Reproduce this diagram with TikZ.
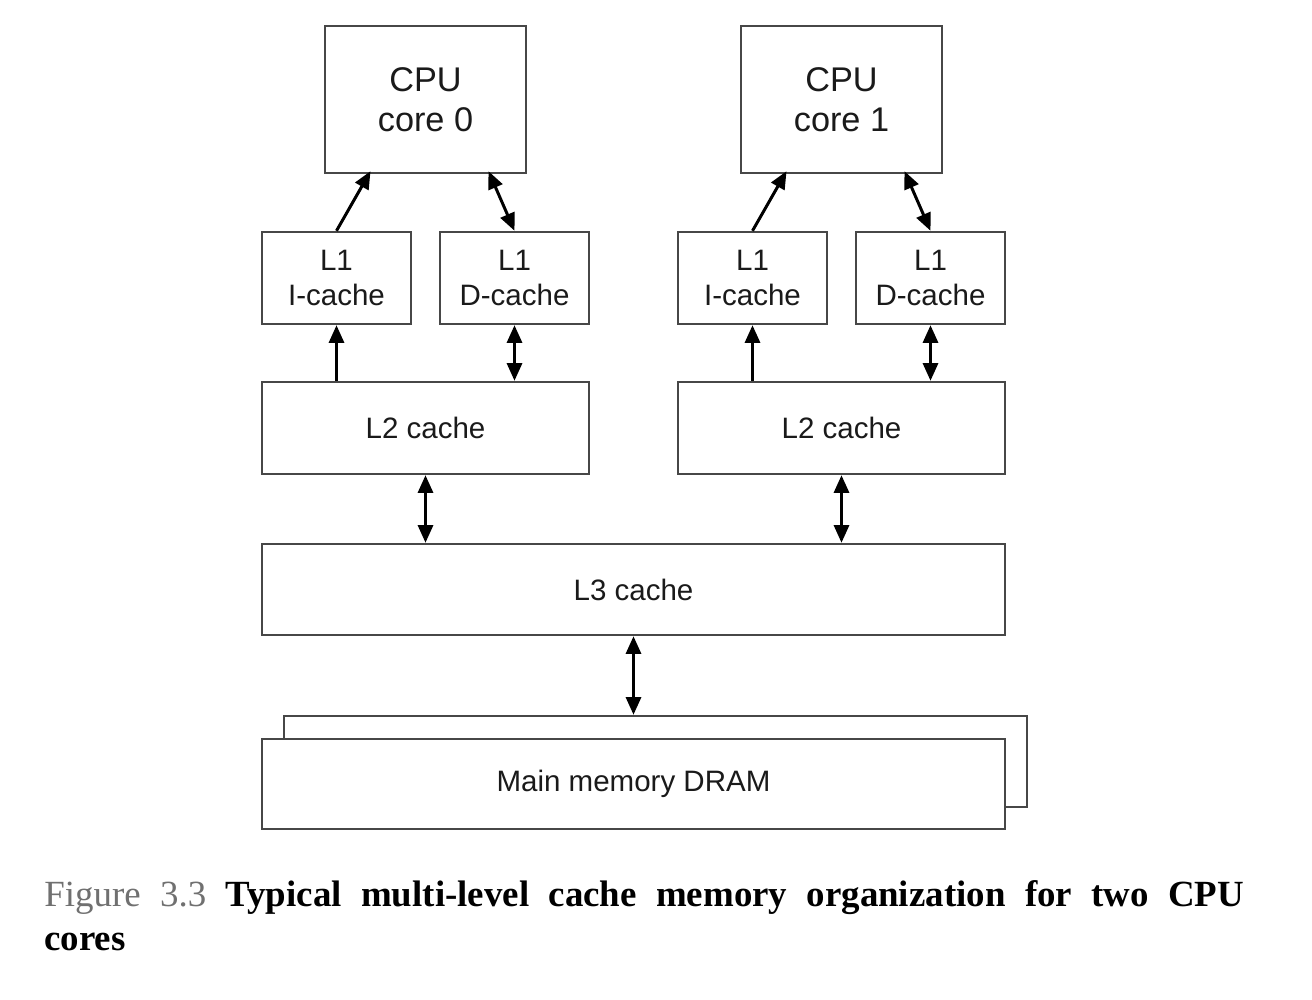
\documentclass[tikz,border=0pt]{standalone}
\usepackage{fontspec}
\setmainfont{Liberation Serif}
\newfontfamily\diagfont{Liberation Sans}
\usetikzlibrary{arrows.meta,calc}
\definecolor{boxgray}{HTML}{474747}
\definecolor{txtgray}{HTML}{1A1A1A}
\definecolor{capgray}{HTML}{707070}
\begin{document}
\begin{tikzpicture}[x=0.02cm,y=-0.02cm,
  box/.style={draw=boxgray, line width=1.4pt, inner sep=0pt, fill=white, align=center, text=txtgray,
    font=\diagfont\fontsize{16.8}{20}\selectfont},
  bigbox/.style={box, font=\diagfont\fontsize{19.5}{22.5}\selectfont},
  tip/.tip={Triangle[length=10pt,width=8.5pt]},
  arr/.style={line width=1.7pt, -tip},
  darr/.style={line width=1.7pt, tip-tip}]
\useasboundingbox (0,0) rectangle (1312,1000);
% CPUs
\node[bigbox, minimum width=4.02cm, minimum height=2.94cm] (cpu0) at (425.5,99.5) {CPU\\core 0};
\node[bigbox, minimum width=4.02cm, minimum height=2.94cm] (cpu1) at (841.5,99.5) {CPU\\core 1};
% L1
\node[box, minimum width=2.98cm, minimum height=1.84cm] (l1ia) at (336.5,278) {L1\\I-cache};
\node[box, minimum width=2.98cm, minimum height=1.84cm] (l1da) at (514.5,278) {L1\\D-cache};
\node[box, minimum width=2.98cm, minimum height=1.84cm] (l1ib) at (752.5,278) {L1\\I-cache};
\node[box, minimum width=2.98cm, minimum height=1.84cm] (l1db) at (930.5,278) {L1\\D-cache};
% L2
\node[box, minimum width=6.54cm, minimum height=1.84cm] (l2a) at (425.5,428) {L2 cache};
\node[box, minimum width=6.54cm, minimum height=1.84cm] (l2b) at (841.5,428) {L2 cache};
% L3
\node[box, minimum width=14.86cm, minimum height=1.82cm] (l3) at (633.5,589.5) {L3 cache};
% DRAM
\node[box, minimum width=14.86cm, minimum height=1.82cm] (dramback) at (655.5,761.5) {};
\node[box, minimum width=14.86cm, minimum height=1.80cm] (dram) at (633.5,784) {Main memory DRAM};
% arrows L1 -> CPU
\draw[arr] (l1ia.north) -- ($(cpu0.south)+(-55,-3)$);
\draw[darr] (l1da.north) -- ($(cpu0.south)+(63,-3)$);
\draw[arr] (l1ib.north) -- ($(cpu1.south)+(-55,-3)$);
\draw[darr] (l1db.north) -- ($(cpu1.south)+(63,-3)$);
% L2 -> L1
\draw[arr] (l1ia.south |- l2a.north) -- (l1ia.south);
\draw[darr] (l1da.south |- l2a.north) -- (l1da.south);
\draw[arr] (l1ib.south |- l2b.north) -- (l1ib.south);
\draw[darr] (l1db.south |- l2b.north) -- (l1db.south);
% L2 <-> L3
\draw[darr] (l2a.south) -- (l2a.south |- l3.north);
\draw[darr] (l2b.south) -- (l2b.south |- l3.north);
% L3 <-> DRAM
\draw[darr] (l3.south) -- (l3.south |- dramback.north);
% caption
\node[anchor=north west, inner sep=0pt, text width=24cm, align=justify,
  font=\fontsize{21}{25}\selectfont] (cap) at (44,880)
  {{\color{capgray}Figure 3.3} \textbf{Typical multi-level cache memory organization for two CPU\linebreak cores}};
\end{tikzpicture}
\end{document}
